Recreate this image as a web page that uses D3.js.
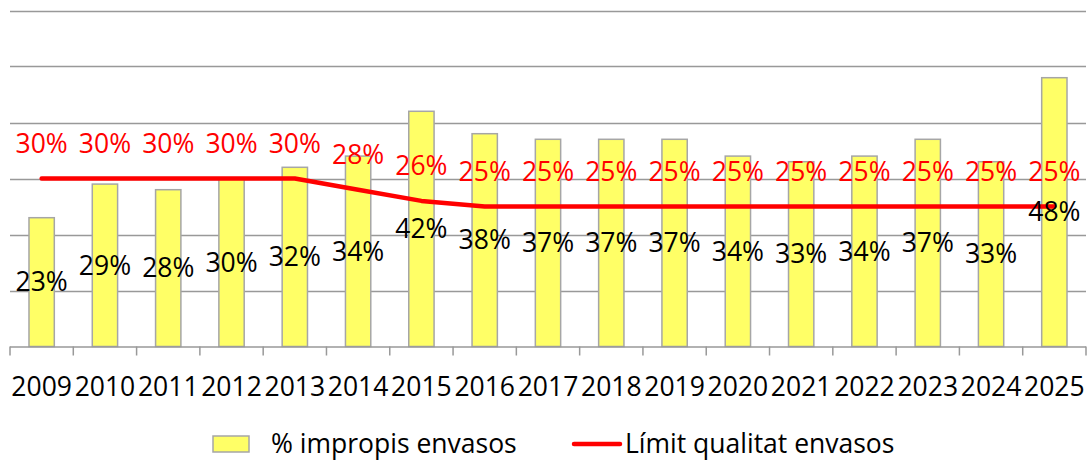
<!DOCTYPE html>
<html><head><meta charset="utf-8">
<script src="https://cdn.jsdelivr.net/npm/d3@7"></script>
<style>
html,body{margin:0;padding:0;background:#fff;}
svg{display:block;}
text{font-family:"Open Sans","Noto Sans",sans-serif;}
</style></head>
<body>
<svg id="chart" width="1087" height="464"></svg>
<script>
const years = ["2009","2010","2011","2012","2013","2014","2015","2016","2017","2018","2019","2020","2021","2022","2023","2024","2025"];
const impropis = [23,29,28,30,32,34,42,38,37,37,37,34,33,34,37,33,48];
const limit = [30,30,30,30,30,28,26,25,25,25,25,25,25,25,25,25,25];
const yTicks = [0,10,20,30,40,50,60];
const seriesNames = ["% impropis envasos","Límit qualitat envasos"];

(function(){
const svg = d3.select("#chart");
const mL = 10, mR = 1086, mT = 10.5, mB = 346.5;
const fs = 26.5;

const x = d3.scaleBand().domain(years).range([mL, mR]).paddingInner(0.6).paddingOuter(0.3);
const xb = d3.scaleBand().domain(years).range([mL, mR]);
const y = d3.scaleLinear().domain([0,60]).range([mB, mT]);

// gridlines
svg.append("g").selectAll("line").data(yTicks.slice(1)).join("line")
  .attr("x1", mL).attr("x2", mR)
  .attr("y1", d => Math.round(y(d)) + 0.5).attr("y2", d => Math.round(y(d)) + 0.5)
  .attr("stroke", "#999").attr("stroke-width", 1.5);

// bars
svg.append("g").selectAll("rect").data(years).join("rect")
  .attr("x", d => x(d)).attr("width", x.bandwidth())
  .attr("y", (d,i) => y(impropis[i])).attr("height", (d,i) => mB - y(impropis[i]))
  .attr("fill", "#FFFF66").attr("stroke", "#A6A6A6").attr("stroke-width", 1.5);

// x axis
const axis = svg.append("g");
axis.append("line").attr("x1", mL).attr("x2", mR).attr("y1", mB+0.5).attr("y2", mB+0.5)
  .attr("stroke", "#999").attr("stroke-width", 1.5);
const bounds = years.map(d => xb(d)).concat([mR]);
axis.selectAll("line.tick").data(bounds).join("line").attr("class","tick")
  .attr("x1", d => d).attr("x2", d => d).attr("y1", mB).attr("y2", mB + 9)
  .attr("stroke", "#999").attr("stroke-width", 1.5);
axis.selectAll("text").data(years).join("text")
  .attr("x", d => xb(d) + xb.bandwidth()/2).attr("y", 396)
  .attr("text-anchor", "middle").attr("font-size", fs).attr("fill", "#000")
  .text(d => d);

// line
const cx = d => xb(d) + xb.bandwidth()/2;
const line = d3.line().x((d,i) => cx(years[i])).y(d => y(d));
svg.append("path").datum(limit).attr("d", line)
  .attr("fill", "none").attr("stroke", "#FF0000").attr("stroke-width", 4.5)
  .attr("stroke-linecap", "round").attr("stroke-linejoin", "round");

// bar labels (centered)
svg.append("g").selectAll("text").data(years).join("text")
  .attr("x", d => cx(d)).attr("y", (d,i) => (y(impropis[i]) + mB)/2)
  .attr("dy", "0.35em").attr("text-anchor", "middle").attr("font-size", fs).attr("fill", "#000")
  .text((d,i) => impropis[i] + "%");

// line labels (above)
svg.append("g").selectAll("text").data(years).join("text")
  .attr("x", d => cx(d)).attr("y", (d,i) => y(limit[i]) - 35)
  .attr("dy", "0.35em").attr("text-anchor", "middle").attr("font-size", fs).attr("fill", "#FF0000")
  .text((d,i) => limit[i] + "%");

// legend
const lg = svg.append("g");
lg.append("rect").attr("x", 213).attr("y", 436).attr("width", 36).attr("height", 16)
  .attr("fill", "#FFFF66").attr("stroke", "#A6A6A6").attr("stroke-width", 1.5);
lg.append("text").attr("x", 271).attr("y", 444).attr("dy","0.35em").attr("font-size", fs).text(seriesNames[0]);
lg.append("line").attr("x1", 574).attr("x2", 620).attr("y1", 444).attr("y2", 444)
  .attr("stroke", "#FF0000").attr("stroke-width", 4.5).attr("stroke-linecap", "round");
lg.append("text").attr("x", 625).attr("y", 444).attr("dy","0.35em").attr("font-size", fs).text(seriesNames[1]);
})();
</script>
</body></html>
